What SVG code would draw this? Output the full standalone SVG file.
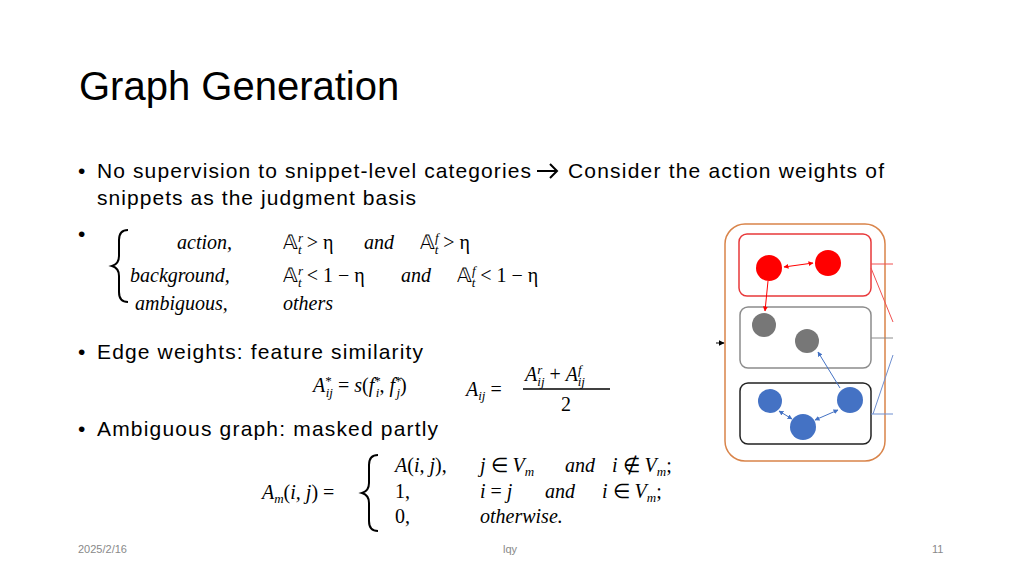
<svg xmlns="http://www.w3.org/2000/svg" width="1024" height="576" viewBox="0 0 1024 576">
<defs>
<style>
.t{font-family:"Liberation Sans",Arial,sans-serif;fill:#000}
.m{font-family:"Liberation Serif","Times New Roman",serif;font-style:italic;fill:#000;font-size:20px}
.r{font-style:normal}
.ft{font-family:"Liberation Sans",Arial,sans-serif;fill:#898989;font-size:11px}
</style>
<marker id="ar" viewBox="0 0 10 10" refX="9" refY="5" markerWidth="5" markerHeight="5" orient="auto-start-reverse"><path d="M0,0L10,5L0,10z" fill="context-stroke"/></marker>
<marker id="ar2" viewBox="0 0 10 10" refX="9" refY="5" markerWidth="6" markerHeight="6" orient="auto"><path d="M0,0L10,5L0,10z" fill="#000"/></marker>
</defs>
<rect width="1024" height="576" fill="#fff"/>
<text class="t" x="79" y="100" font-size="40">Graph Generation</text>
<text class="t" x="78" y="178" font-size="21">•</text>
<text class="t" x="97" y="178" font-size="21" textLength="434">No supervision to snippet-level categories</text>
<path d="M537,171h20M550,164l7,7l-7,7" stroke="#000" stroke-width="2" fill="none"/>
<text class="t" x="568" y="178" font-size="21" textLength="316">Consider the action weights of</text>
<text class="t" x="97" y="205" font-size="21" textLength="319">snippets as the judgment basis</text>
<text class="t" x="78" y="241" font-size="21">•</text>
<path d="M128,230 q-9,0 -9,10 v16 q0,8 -7,10 q7,2 7,10 v16 q0,10 9,10" stroke="#000" stroke-width="2" fill="none"/>
<text class="m" x="177" y="249">action,</text>
<text class="m" x="283" y="249"><tspan class="r">𝔸</tspan><tspan font-size="13" dy="-7">r</tspan><tspan font-size="13" dx="-5" dy="12">t</tspan><tspan dy="-5" class="r"> &gt; η</tspan></text>
<text class="m" x="364" y="249">and</text>
<text class="m" x="420" y="249"><tspan class="r">𝔸</tspan><tspan font-size="13" dy="-7">f</tspan><tspan font-size="13" dx="-4" dy="12">t</tspan><tspan dy="-5" class="r"> &gt; η</tspan></text>
<text class="m" x="130" y="282">background,</text>
<text class="m" x="283" y="282"><tspan class="r">𝔸</tspan><tspan font-size="13" dy="-7">r</tspan><tspan font-size="13" dx="-5" dy="12">t</tspan><tspan dy="-5" class="r"> &lt; 1 − η</tspan></text>
<text class="m" x="401" y="282">and</text>
<text class="m" x="457" y="282"><tspan class="r">𝔸</tspan><tspan font-size="13" dy="-7">f</tspan><tspan font-size="13" dx="-4" dy="12">t</tspan><tspan dy="-5" class="r"> &lt; 1 − η</tspan></text>
<text class="m" x="135" y="310">ambiguous,</text>
<text class="m" x="283" y="310">others</text>
<text class="t" x="78" y="359" font-size="21">•</text>
<text class="t" x="97" y="359" font-size="21" textLength="326">Edge weights: feature similarity</text>
<text class="m" x="313" y="392" fill="#222">A<tspan font-size="13" dy="-7" class="r">*</tspan><tspan font-size="13" dx="-6" dy="12">ij</tspan><tspan dy="-5" class="r"> = </tspan>s<tspan class="r">(</tspan>f<tspan font-size="13" dy="-7" class="r">*</tspan><tspan font-size="13" dx="-5" dy="12">i</tspan><tspan dy="-5" class="r">, </tspan>f<tspan font-size="13" dy="-7" class="r">*</tspan><tspan font-size="13" dx="-5" dy="12">j</tspan><tspan dy="-5" class="r">)</tspan></text>
<text class="m" x="466" y="396">A<tspan font-size="13" dy="4">ij</tspan><tspan dy="-4" class="r"> =</tspan></text>
<text class="m" x="525" y="381">A<tspan font-size="13" dy="-7">r</tspan><tspan font-size="13" dx="-5" dy="12">ij</tspan><tspan dy="-5" class="r"> + </tspan>A<tspan font-size="13" dy="-7">f</tspan><tspan font-size="13" dx="-4" dy="12">ij</tspan></text>
<line x1="523" y1="389" x2="610" y2="389" stroke="#000" stroke-width="1.5"/>
<text class="m r" x="561" y="411" style="font-style:normal">2</text>
<text class="t" x="78" y="436" font-size="21">•</text>
<text class="t" x="97" y="436" font-size="21" textLength="341">Ambiguous graph: masked partly</text>
<text class="m" x="262" y="499">A<tspan font-size="13" dy="4">m</tspan><tspan dy="-4" class="r">(</tspan>i, j<tspan class="r">) =</tspan></text>
<path d="M378,455 q-9,0 -9,10 v18 q0,8 -7,10 q7,2 7,10 v18 q0,10 9,10" stroke="#000" stroke-width="2" fill="none"/>
<text class="m" x="395" y="472">A<tspan class="r">(</tspan>i, j<tspan class="r">),</tspan></text>
<text class="m" x="480" y="472">j <tspan class="r">∈</tspan> V<tspan font-size="13" dy="4">m</tspan></text>
<text class="m" x="565" y="472">and</text>
<text class="m" x="612" y="472">i <tspan class="r">∉</tspan> V<tspan font-size="13" dy="4">m</tspan><tspan dy="-4" class="r">;</tspan></text>
<text class="m r" x="395" y="498" style="font-style:normal">1,</text>
<text class="m" x="480" y="498">i <tspan class="r">=</tspan> j</text>
<text class="m" x="545" y="498">and</text>
<text class="m" x="602" y="498">i <tspan class="r">∈</tspan> V<tspan font-size="13" dy="4">m</tspan><tspan dy="-4" class="r">;</tspan></text>
<text class="m r" x="395" y="523" style="font-style:normal">0,</text>
<text class="m" x="480" y="523">otherwise.</text>
<g id="graph">
<rect x="725" y="224" width="160" height="237" rx="20" fill="none" stroke="#d9844a" stroke-width="1.5"/>
<g id="action"><rect x="739" y="234" width="132" height="62" rx="8" fill="none" stroke="#e8383a" stroke-width="1.5"/>
<circle cx="769" cy="268" r="13" fill="#f00"/><circle cx="828" cy="263" r="13" fill="#f00"/></g>
<g id="background"><rect x="740" y="307" width="131" height="61" rx="8" fill="none" stroke="#8c8c8c" stroke-width="1.5"/>
<circle cx="764" cy="325" r="12" fill="#777"/><circle cx="807" cy="341" r="12" fill="#777"/></g>
<g id="ambiguous"><rect x="740" y="383" width="131" height="61" rx="8" fill="none" stroke="#222" stroke-width="1.5"/>
<circle cx="770" cy="401" r="12" fill="#4472c4"/><circle cx="803" cy="427" r="13" fill="#4472c4"/><circle cx="850" cy="400" r="13" fill="#4472c4"/></g>
</g>
<g id="connectors" fill="none" stroke-width="1">
<line x1="784" y1="267" x2="813" y2="263" stroke="#f00" marker-start="url(#ar)" marker-end="url(#ar)"/>
<line x1="768" y1="281" x2="765" y2="311" stroke="#f00" marker-end="url(#ar)"/>
<line x1="840" y1="388" x2="818" y2="352" stroke="#4472c4" marker-end="url(#ar)"/>
<line x1="779" y1="411" x2="792" y2="419" stroke="#4472c4" marker-start="url(#ar)" marker-end="url(#ar)"/>
<line x1="815" y1="420" x2="838" y2="410" stroke="#4472c4" marker-start="url(#ar)" marker-end="url(#ar)"/>
<line x1="871" y1="264" x2="893" y2="264" stroke="#f05050"/>
<line x1="871" y1="268" x2="893" y2="322" stroke="#f05050"/>
<line x1="871" y1="338" x2="893" y2="338" stroke="#8c8c8c"/>
<line x1="871" y1="414" x2="893" y2="414" stroke="#6f8fd0"/>
<line x1="873" y1="414" x2="893" y2="355" stroke="#6f8fd0"/>
<line x1="716" y1="343" x2="724" y2="343" stroke="#000" marker-end="url(#ar2)"/>
</g>
<text class="ft" x="78" y="553">2025/2/16</text>
<text class="ft" x="503" y="553">lqy</text>
<text class="ft" x="932" y="553">11</text>
</svg>
